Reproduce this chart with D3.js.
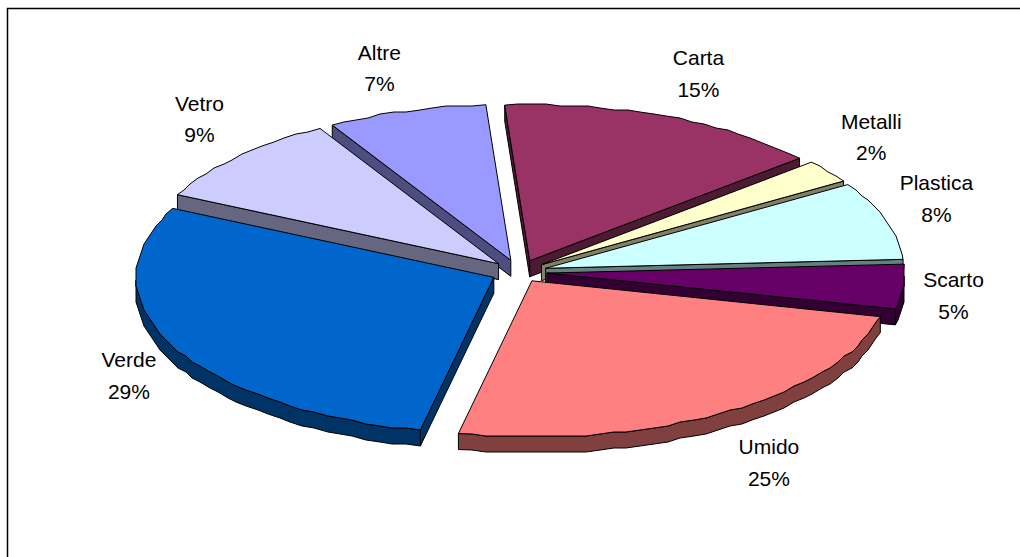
<!DOCTYPE html>
<html>
<head>
<meta charset="utf-8">
<script src="https://cdnjs.cloudflare.com/ajax/libs/d3/7.8.5/d3.min.js"></script>
<style>
html, body { margin: 0; padding: 0; background: #fff; }
svg { display: block; }
text { font-family: "Liberation Sans", Arial, sans-serif; font-size: 21px; fill: #000; text-anchor: middle; }
</style>
</head>
<body>
<div class="graph"></div>
<script>
// data
var categories = ["Carta", "Metalli", "Plastica", "Scarto", "Umido", "Verde", "Vetro", "Altre"];
var values = [14.7, 2.4, 8.1, 4.6, 24.6, 29.0, 9.4, 7.2];
var colors = ["#993366", "#FFFFCC", "#CCFFFF", "#660066", "#FF8080", "#0066CC", "#CCCCFF", "#9999FF"];
var explode = [28, 28, 28, 28, 24, 28, 28, 28];

const WIDTH = 1020;
const HEIGHT = 557;
const CX = 519;
const CY = 272;
const RX = 358;
const RY = 156;
const DEPTH = 16;
const START = -4 * Math.PI / 180;
const STEP = 0.04;          // the original rim is a coarse polyline
const GRID = 2;

// where each label sits relative to the rim of its slice
var labelOffsets = [[32, -43], [43, -34], [50, -22], [50, 9], [45, 50], [-43, 30], [-38, -38], [-27, -43]];

var svg = d3.select(".graph").append("svg")
	.attr("width", WIDTH)
	.attr("height", HEIGHT);

// chart frame: top and left only are in view
svg.append("path")
	.attr("d", d3.line()([[7.5, HEIGHT], [7.5, 8.5], [WIDTH, 8.5]]))
	.attr("fill", "none")
	.attr("stroke", "#000")
	.attr("stroke-width", 1.5);

// unit circle -> flattened disc on the page
var xScale = d3.scaleLinear().domain([-1, 1]).range([CX - RX, CX + RX]);
var yScale = d3.scaleLinear().domain([-1, 1]).range([CY - RY, CY + RY]);

var pie = d3.pie().sort(null).startAngle(START).endAngle(START + 2 * Math.PI);
var slices = pie(values);

var outline = d3.line();

var point = function(angle, r, mid, i) {
	var e = explode[i] / RX;
	var ox = e * Math.sin(mid);
	var oy = -e * Math.cos(mid);
	return [xScale(ox + r * Math.sin(angle)), yScale(oy - r * Math.cos(angle))];
};

var snap = function(p) {
	return [Math.round(p[0] / GRID) * GRID, Math.round(p[1] / GRID) * GRID];
};

var rim = function(a, b, mid, idx) {
	var pts = [];
	var n = Math.max(2, Math.ceil((b - a) / STEP));
	for (var i = 0; i <= n; i++) {
		var p = point(a + (b - a) * i / n, 1, mid, idx);
		pts.push(i == 0 || i == n ? p : snap(p));
	}
	return pts;
};

var drop = function(pts) {
	return pts.map(function(p) { return [p[0], p[1] + DEPTH]; });
};

var wall = function(top) {
	return top.concat(drop(top).reverse());
};

// back slices first, so the front ones paint over them
var order = slices.map(function(d, i) { return i; }).sort(function(a, b) {
	var ma = (slices[a].startAngle + slices[a].endAngle) / 2;
	var mb = (slices[b].startAngle + slices[b].endAngle) / 2;
	return d3.descending(Math.cos(ma), Math.cos(mb));
});

var groups = svg.selectAll(".slice").data(order).enter().append("g").attr("class", "slice");

groups.each(function(i) {
	var d = slices[i];
	var g = d3.select(this);
	var a = d.startAngle, b = d.endAngle, mid = (a + b) / 2;
	var side = d3.interpolateRgb(colors[i], "#000")(0.5);
	var apex = point(0, 0, mid, i);
	var edge = rim(a, b, mid, i);
	var faces = [];

	// radial walls, only those turned to the viewer
	if (Math.sin(a) < 0) faces.push(wall([apex, point(a, 1, mid, i)]));
	if (Math.sin(b) > 0) faces.push(wall([apex, point(b, 1, mid, i)]));

	// outer wall on the front half of the disc
	var lo = Math.max(a, Math.PI / 2), hi = Math.min(b, 3 * Math.PI / 2);
	if (hi > lo) faces.push(wall(edge.filter(function(p, j) {
		var t = a + (b - a) * j / (edge.length - 1);
		return t >= lo && t <= hi;
	})));

	faces.forEach(function(f) {
		g.append("path")
			.attr("d", outline(f) + "Z")
			.attr("fill", side)
			.attr("stroke", "#000")
			.attr("stroke-width", 1)
			.attr("stroke-linejoin", "round");
	});

	g.append("path")
		.attr("d", outline([apex].concat(edge)) + "Z")
		.attr("fill", colors[i])
		.attr("stroke", "#000")
		.attr("stroke-width", 1)
		.attr("stroke-linejoin", "round");
});

// labels
var pct = d3.format(".0%");
var total = d3.sum(values);
var labels = svg.selectAll(".label").data(slices).enter().append("text").attr("class", "label");

labels.each(function(d, i) {
	var mid = (d.startAngle + d.endAngle) / 2;
	var p = point(mid, 1, mid, i);
	var x = p[0] + labelOffsets[i][0];
	var y = p[1] + labelOffsets[i][1];
	var t = d3.select(this);
	t.append("tspan").attr("x", x).attr("y", y - 15.75).attr("dy", "0.35em").text(categories[i]);
	t.append("tspan").attr("x", x).attr("y", y + 15.75).attr("dy", "0.35em").text(pct(d.value / total));
});
</script>
</body>
</html>
